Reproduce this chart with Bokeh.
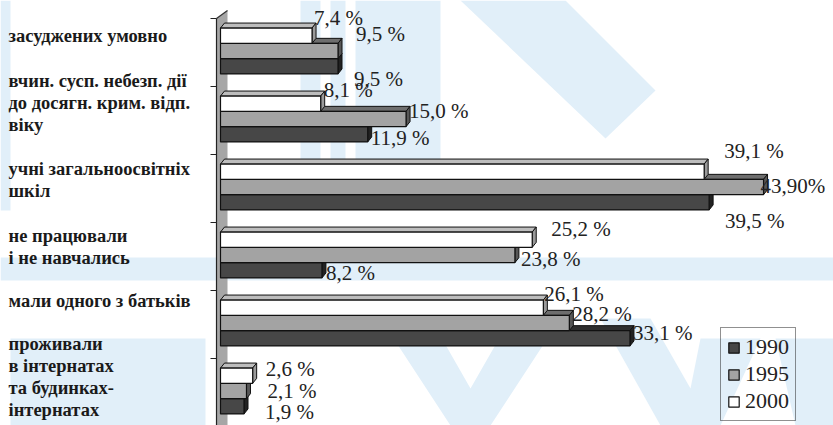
import numpy as np
from bokeh.plotting import figure
from bokeh.models import Range1d, ColumnDataSource, Legend, LegendItem
from bokeh.core.properties import value
from bokeh.embed import file_html
from bokeh.resources import INLINE

# ---------------- data ----------------
categories = [
    "засуджених умовно",
    "вчин. сусп. небезп. дії\nдо досягн. крим. відп.\nвіку",
    "учні загальноосвітніх\nшкіл",
    "не працювали\nі не навчались",
    "мали одного з батьків",
    "проживали\nв інтернатах\nта будинках-\nінтернатах",
]
years = ["1990", "1995", "2000"]
v1990 = [9.5, 11.9, 39.5, 8.2, 33.1, 1.9]
v1995 = [9.5, 15.0, 43.9, 23.8, 28.2, 2.1]
v2000 = [7.4, 8.1, 39.1, 25.2, 26.1, 2.6]
lab1990 = ["9,5 %", "11,9 %", "39,5 %", "8,2 %", "33,1 %", "1,9 %"]
lab1995 = ["9,5 %", "15,0 %", "43,90%", "23,8 %", "28,2 %", "2,1 %"]
lab2000 = ["7,4 %", "8,1 %", "39,1 %", "25,2 %", "26,1 %", "2,6 %"]

# ---------------- style / layout ----------------
W, H = 833, 425
K = 12.37          # px per percent
PY = 68.0          # px per category
X0 = 220.0         # px from left edge where value 0 lies
Y0 = 18.0          # px from top where first category boundary lies
BAR_H = 15.3 / PY
DX = 4.0 / K
DY = 5.0 / PY
CENTER = 32.5 / PY

serif = value("Liberation Serif")

series_style = {
    "1990": dict(front="#474747", top="#2e2e2e", side="#222222", shift=+1),
    "1995": dict(front="#a3a3a3", top="#6e6e6e", side="#575757", shift=0),
    "2000": dict(front="#ffffff", top="#bdbdbd", side="#9a9a9a", shift=-1),
}
# label offsets in px (dx from bar end, dy from bar centre, +down)
label_dx = {"1990": [16, 3, 16, 4, 3, 21], "1995": [18, 3, -3, 6, 3, 21], "2000": [2, 3, 20, 19, 1, 13]}
label_dy = {"1990": [13, 4, 19, 3, -5, 6], "1995": [-17, -8, -1, 4, -9, 0], "2000": [-18, -14, -21, -11, -14, -7]}
# first-line centre of each category label, px from category boundary
cat_label_dy = [17, -6, 14, 13, 10, -15]
LINE_PX = 22.0
CAT_FS = 18.5
VAL_FS = 21

p = figure(width=W, height=H, output_backend="svg", toolbar_location=None,
           x_range=Range1d(-X0 / K, (W - X0) / K),
           y_range=Range1d((H - Y0) / PY, -Y0 / PY),
           min_border=0, outline_line_color=None)
p.axis.visible = False
p.grid.visible = False
p.background_fill_color = "white"

def sx(px):  # figure px -> data x
    return (px - X0) / K

def sy(py):
    return (py - Y0) / PY

# ---- watermark (faint background logo) ----
wm = "#e1eff9"
shapes = [
    [(0, 0), (10, 0), (10, 210), (0, 210)],
    [(0, 257), (W, 257), (W, 280), (0, 280)],
    [(300, 0), (320, 0), (320, 175), (300, 175)],
    [(330, 0), (345, 0), (345, 175), (330, 175)],
    [(355, 0), (440, 0), (440, 170), (355, 170)],
    [(460, 0), (565, 0), (655, 90), (605, 138)],
    [(10, 338), (205, 338), (205, H), (10, H)],
    [(380, 318), (430, 318), (470, 388), (510, 318), (560, 318), (490, H), (450, H)],
    [(600, 318), (650, 318), (690, 388), (700, 338), (760, 338), (720, H), (660, H)],
    [(775, 338), (W, 338), (W, H), (795, H)],
]
p.patches(xs=[[sx(a) for a, b in s] for s in shapes],
          ys=[[sy(b) for a, b in s] for s in shapes],
          fill_color=wm, line_color=None)

# ---- left wall ----
wall_l, wall_r = sx(X0 - 4), sx(X0 + 7)
p.patch(x=[wall_l, wall_r, wall_r, wall_l], y=[0, sy(Y0 - 8), 6.3, 6.3],
        fill_color="#a6a6a6", line_color=None)
p.line(x=[wall_l, wall_r], y=[0, sy(Y0 - 8)], line_color="#333333", line_width=1.2)
p.line(x=[wall_l, wall_l], y=[0, 6.3], line_color="#222222", line_width=1.2)
ticks = np.arange(0, len(categories) + 1)
p.segment(x0=sx(X0 - 10), x1=wall_l, y0=ticks, y1=ticks, line_color="#222222", line_width=1.2)

# ---- category labels (one text per line) ----
lx, ly, lt = [], [], []
for i, cat in enumerate(categories):
    for k, line in enumerate(cat.split("\n")):
        lx.append(sx(8))
        ly.append(i + (cat_label_dy[i] + k * LINE_PX) / PY)
        lt.append(line)
p.text(x=lx, y=ly, text=lt, text_font=serif, text_font_style="bold",
       text_font_size=f"{CAT_FS}px", text_color="#1a1a1a", text_align="left",
       text_baseline="middle")

# ---- 3D bars ----
values = {"1990": v1990, "1995": v1995, "2000": v2000}
labels = {"1990": lab1990, "1995": lab1995, "2000": lab2000}
cat_idx = np.arange(len(categories))
front_renderers = {}
for yr in years:  # draw 1990 first (bottom), 2000 last
    st = series_style[yr]
    v = np.array(values[yr])
    yc = cat_idx + CENTER + st["shift"] * BAR_H
    ytop = yc - BAR_H / 2
    ybot = yc + BAR_H / 2
    top_xs = [[0, DX, a + DX, a] for a in v]
    top_ys = [[t, t - DY, t - DY, t] for t in ytop]
    side_xs = [[a, a + DX, a + DX, a] for a in v]
    side_ys = [[t, t - DY, b - DY, b] for t, b in zip(ytop, ybot)]
    p.patches(xs=top_xs, ys=top_ys, fill_color=st["top"], line_color="#111111", line_width=1)
    p.patches(xs=side_xs, ys=side_ys, fill_color=st["side"], line_color="#111111", line_width=1)
    src = ColumnDataSource(dict(left=np.zeros(len(v)), right=v, top=ytop, bottom=ybot))
    front_renderers[yr] = p.quad(left="left", right="right", top="top", bottom="bottom", source=src,
                                 fill_color=st["front"], line_color="#111111", line_width=1.2)

# ---- value labels ----
for yr in years:
    st = series_style[yr]
    v = np.array(values[yr])
    yc = cat_idx + CENTER + st["shift"] * BAR_H
    p.text(x=v + np.array(label_dx[yr]) / K, y=yc + np.array(label_dy[yr]) / PY,
           text=labels[yr], text_font=serif, text_font_size=f"{VAL_FS}px", text_color="#222222",
           text_align="left", text_baseline="middle")

# ---- legend ----
legend = Legend(items=[LegendItem(label=yr, renderers=[front_renderers[yr]]) for yr in years],
                location=(720, 4), orientation="vertical",
                label_text_font="Liberation Serif", label_text_font_size="22px",
                label_text_color="#222222",
                glyph_width=13, glyph_height=13, label_height=20, spacing=1,
                padding=6, margin=0, label_standoff=5,
                border_line_color="#222222", border_line_width=1,
                background_fill_alpha=0)
p.add_layout(legend)

open("out.html", "w").write(file_html(p, INLINE))
